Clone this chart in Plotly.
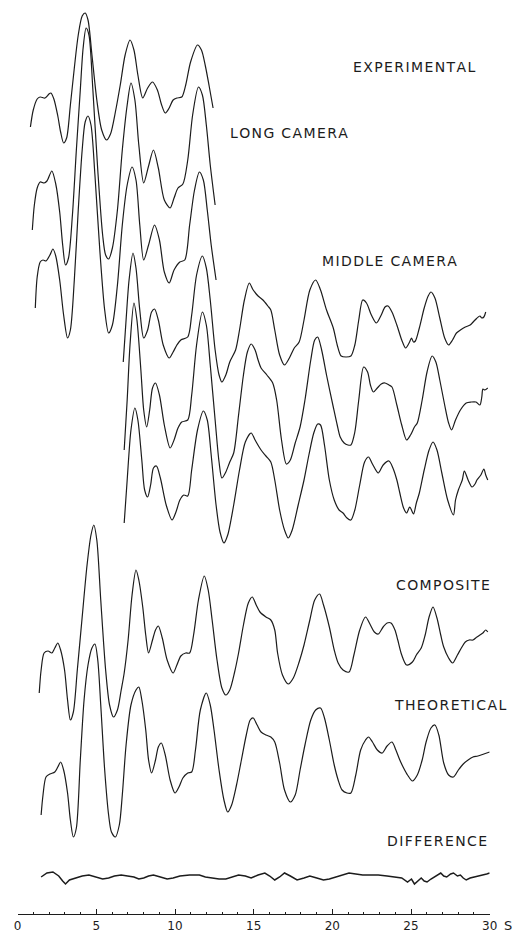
import plotly.graph_objects as go

# ---- molecular intensity curves, s in units of the lower scale, intensity in arbitrary units ----

# long camera plates
long1_s = [0.81, 0.99, 1.24, 1.43, 1.74, 1.99, 2.11, 2.30, 2.55, 2.73, 2.92, 3.11, 3.35, 3.60, 3.85, 4.10,
           4.29, 4.47, 4.72, 5.03, 5.34, 5.65, 5.90, 6.21, 6.52, 6.83, 7.14, 7.39, 7.64, 7.95, 8.26, 8.57,
           8.88, 9.13, 9.38, 9.63, 9.88, 10.12, 10.43, 10.68, 10.99, 11.43, 11.68, 11.93, 12.17, 12.42]
long1_i = [-27, -10, 1, 3, 2, 6, 7, 1, -16, -32, -43, -38, -5, 32, 65, 84,
           87, 80, 45, 0, -30, -40, -34, -12, 15, 45, 60, 50, 25, 2, 12, 18,
           10, -4, -13, -8, 0, 2, 3, 15, 38, 55, 50, 34, 14, -8]

long2_s = [0.93, 1.06, 1.24, 1.43, 1.68, 1.86, 2.17, 2.42, 2.67, 2.86, 3.04, 3.23, 3.48, 3.73, 3.98, 4.16,
           4.35, 4.53, 4.78, 5.09, 5.40, 5.59, 5.78, 6.02, 6.34, 6.65, 6.96, 7.20, 7.45, 7.70, 8.01, 8.32,
           8.63, 8.94, 9.32, 9.69, 9.94, 10.19, 10.50, 10.81, 11.12, 11.49, 11.74, 11.99, 12.24, 12.55]
long2_i = [-40, -15, 2, 8, 7, 9, 19, 6, -22, -55, -75, -68, -25, 40, 100, 142,
           162, 155, 100, 20, -45, -65, -69, -58, -20, 40, 85, 107, 90, 45, 7, 24,
           40, 22, -10, -18, -8, 2, 6, 30, 75, 103, 95, 65, 25, -15]

long3_s = [1.12, 1.24, 1.43, 1.61, 1.80, 2.05, 2.24, 2.42, 2.67, 2.92, 3.17, 3.35, 3.60, 3.85, 4.10, 4.29,
           4.47, 4.66, 4.91, 5.22, 5.53, 5.78, 6.02, 6.34, 6.65, 6.96, 7.27, 7.52, 7.76, 8.01, 8.32, 8.70,
           9.01, 9.32, 9.63, 9.94, 10.31, 10.62, 10.93, 11.24, 11.55, 11.80, 12.05, 12.30, 12.61]
long3_i = [-38, -7, 8, 10, 9, 15, 21, 14, -10, -45, -68, -60, -10, 60, 120, 148,
           154, 145, 95, 20, -40, -63, -55, -15, 45, 85, 103, 90, 45, 10, 25, 45,
           30, -2, -13, 0, 8, 10, 45, 80, 98, 90, 60, 25, -10]

# middle camera plates
mid1_s = [6.71, 6.89, 7.08, 7.33, 7.52, 7.76, 8.01, 8.26, 8.51, 8.70, 8.94, 9.25, 9.63, 9.88, 10.12, 10.37,
          10.81, 11.06, 11.37, 11.74, 11.99, 12.24, 12.55, 12.80, 12.98, 13.23, 13.48, 13.85, 14.10, 14.41,
          14.72, 14.97, 15.28, 15.59, 15.90, 16.09, 16.34, 16.65, 16.96, 17.27, 17.58, 17.89, 18.20, 18.57,
          18.94, 19.25, 19.63, 20.06, 20.31, 20.56, 20.87, 21.18, 21.43, 21.68, 21.93, 22.17, 22.48, 22.80,
          23.11, 23.35, 23.54, 23.79, 24.10, 24.41, 24.66, 24.91, 25.03, 25.16, 25.28, 25.53, 25.84, 26.09,
          26.27, 26.52, 26.83, 27.14, 27.39, 27.64, 27.89, 28.14, 28.45, 28.76, 29.07, 29.38, 29.50, 29.63, 29.75]
mid1_i = [-42, 0, 40, 67, 52, 10, -18, -10, 8, 11, 0, -25, -38, -32, -25, -20,
          -17, 5, 45, 64, 52, 20, -30, -55, -62, -55, -42, -30, -10, 20,
          37, 30, 24, 20, 14, 10, -10, -35, -45, -38, -28, -22, 0, 30,
          40, 30, 10, -8, -25, -36, -37, -36, -25, 0, 20, 17, 5, -3,
          5, 13, 14, 8, -5, -20, -28, -22, -18, -22, -21, -8, 12, 24,
          28, 22, 2, -18, -25, -20, -13, -10, -7, -5, 0, 4, 2, 3, 8]

mid2_s = [6.77, 6.96, 7.14, 7.39, 7.58, 7.83, 8.01, 8.20, 8.39, 8.57, 8.76, 9.01, 9.32, 9.69, 9.94, 10.19,
          10.43, 10.81, 11.06, 11.37, 11.74, 11.99, 12.24, 12.55, 12.80, 12.98, 13.23, 13.48, 13.73, 14.04,
          14.35, 14.60, 14.84, 15.09, 15.28, 15.47, 15.84, 16.21, 16.46, 16.77, 17.08, 17.33, 17.64, 17.95,
          18.26, 18.63, 18.88, 19.07, 19.32, 19.63, 20.06, 20.31, 20.50, 20.75, 20.99, 21.18, 21.43, 21.68,
          21.99, 22.24, 22.42, 22.61, 22.86, 23.11, 23.35, 23.60, 23.79, 24.10, 24.41, 24.72, 24.97, 25.22,
          25.40, 25.71, 26.02, 26.34, 26.58, 26.83, 27.14, 27.39, 27.58, 27.83, 28.14, 28.51, 28.82, 29.13,
          29.38, 29.50, 29.57, 29.69, 29.88]
mid2_i = [-50, 0, 55, 97, 80, 30, -10, -27, -10, 12, 17, 5, -25, -48, -40, -28,
          -22, -20, 5, 55, 88, 75, 35, -20, -62, -78, -72, -62, -53, -15,
          25, 48, 56, 50, 40, 32, 25, 17, 0, -40, -64, -60, -43, -27,
          0, 40, 60, 63, 50, 25, -7, -25, -37, -43, -45, -45, -32, 0,
          33, 28, 15, 8, 12, 16, 17, 15, 13, -5, -25, -40, -35, -27,
          -23, 0, 28, 44, 38, 20, -5, -23, -30, -20, -10, -3, -2, -2,
          -5, 3, 11, 10, 12]

mid3_s = [6.77, 6.96, 7.20, 7.45, 7.64, 7.89, 8.07, 8.26, 8.45, 8.63, 8.82, 9.07, 9.44, 9.81, 10.06, 10.31,
          10.56, 10.81, 11.06, 11.43, 11.80, 12.05, 12.30, 12.61, 12.86, 13.11, 13.35, 13.73, 14.10, 14.47,
          14.84, 15.09, 15.47, 15.78, 16.09, 16.34, 16.65, 16.96, 17.20, 17.45, 17.83, 18.20, 18.51, 18.82,
          19.07, 19.25, 19.50, 19.81, 20.12, 20.43, 20.68, 20.93, 21.18, 21.43, 21.74, 22.05, 22.30, 22.55,
          22.92, 23.23, 23.60, 23.85, 24.10, 24.29, 24.53, 24.72, 24.91, 24.97, 25.16, 25.34, 25.53, 25.84,
          26.15, 26.40, 26.65, 26.96, 27.33, 27.70, 27.83, 28.01, 28.26, 28.39, 28.63, 28.88, 29.07, 29.19,
          29.44, 29.63, 29.75, 29.88]
mid3_i = [-48, -5, 45, 67, 55, 15, -15, -22, -10, 7, 9, -3, -30, -45, -37, -25,
          -20, -21, 5, 45, 64, 55, 20, -30, -57, -68, -60, -30, 5, 33,
          42, 35, 25, 19, 13, -5, -35, -55, -63, -55, -30, -5, 20, 42,
          51, 50, 30, -5, -25, -35, -38, -43, -45, -35, -10, 13, 18, 11,
          2, 10, 14, 7, -5, -18, -33, -38, -32, -33, -39, -28, -18, 5,
          25, 33, 25, 2, -25, -40, -25, -15, -5, 4, -5, -12, -9, -5,
          0, 6, 0, -5]

# composite of all plates
comp_s = [1.37, 1.49, 1.68, 1.93, 2.17, 2.36, 2.55, 2.73, 2.98, 3.17, 3.35, 3.54, 3.79, 4.10, 4.41, 4.66,
          4.84, 5.03, 5.28, 5.59, 5.84, 6.09, 6.34, 6.58, 6.77, 7.02, 7.27, 7.52, 7.70, 7.95, 8.14, 8.32,
          8.57, 8.76, 8.94, 9.19, 9.50, 9.88, 10.12, 10.37, 10.68, 10.93, 11.18, 11.49, 11.86, 12.11, 12.36,
          12.67, 12.98, 13.23, 13.48, 13.79, 14.04, 14.35, 14.66, 14.91, 15.16, 15.40, 15.78, 16.09, 16.34,
          16.52, 16.83, 17.20, 17.52, 17.89, 18.20, 18.57, 18.88, 19.19, 19.44, 19.81, 20.12, 20.37, 20.68,
          21.06, 21.37, 21.74, 22.11, 22.42, 22.67, 22.92, 23.23, 23.48, 23.73, 23.98, 24.16, 24.41, 24.72,
          25.09, 25.34, 25.65, 25.90, 26.15, 26.40, 26.65, 26.89, 27.08, 27.39, 27.64, 27.95, 28.20, 28.45,
          28.70, 28.94, 29.19, 29.38, 29.57, 29.75, 29.88]
comp_i = [-43, -20, -3, -1, -3, 2, 7, 0, -20, -50, -70, -62, -20, 33, 85, 115,
          125, 110, 50, -20, -55, -67, -60, -40, -23, 10, 55, 80, 70, 43, 15, -3,
          10, 20, 24, 12, -10, -23, -15, -6, -3, -3, 15, 50, 74, 60, 30,
          -10, -38, -45, -40, -22, -3, 25, 47, 53, 45, 38, 33, 30, 20,
          -3, -25, -34, -28, -12, 5, 30, 50, 56, 45, 23, 0, -13, -20,
          -22, -5, 20, 33, 25, 18, 16, 23, 27, 27, 20, 10, -5, -15,
          -12, -5, 2, 15, 33, 43, 32, 15, 3, -8, -13, -5, 2, 8,
          10, 10, 13, 15, 17, 20, 18]

# theoretical curve
theo_s = [1.49, 1.61, 1.80, 2.05, 2.36, 2.55, 2.73, 2.92, 3.17, 3.35, 3.54, 3.73, 3.98, 4.22, 4.47, 4.72,
          4.91, 5.09, 5.28, 5.53, 5.78, 5.96, 6.21, 6.46, 6.65, 6.89, 7.20, 7.52, 7.70, 7.89, 8.14, 8.32,
          8.51, 8.76, 8.94, 9.13, 9.38, 9.69, 10.00, 10.25, 10.50, 10.81, 11.06, 11.30, 11.61, 11.99, 12.24,
          12.48, 12.80, 13.11, 13.35, 13.60, 13.91, 14.22, 14.53, 14.78, 14.97, 15.22, 15.47, 15.78, 16.09,
          16.34, 16.65, 16.96, 17.33, 17.64, 17.95, 18.26, 18.63, 18.94, 19.25, 19.50, 19.81, 20.12, 20.37,
          20.62, 20.93, 21.18, 21.49, 21.80, 22.11, 22.30, 22.55, 22.86, 23.17, 23.48, 23.79, 24.04, 24.29,
          24.53, 24.78, 25.09, 25.40, 25.71, 25.96, 26.27, 26.52, 26.77, 27.08, 27.39, 27.70, 28.01, 28.32,
          28.63, 28.94, 29.25, 29.63, 30.00]
theo_i = [-55, -35, -17, -14, -12, -7, -2, -10, -33, -60, -77, -68, 0, 60, 95, 112,
          116, 100, 55, -10, -55, -72, -77, -65, -35, 15, 55, 70, 73, 60, 30, 0,
          -13, 0, 13, 17, 5, -20, -33, -27, -18, -13, -12, 10, 50, 67, 55,
          30, -10, -40, -52, -45, -25, 0, 25, 40, 42, 35, 28, 25, 23,
          18, -3, -30, -42, -35, -10, 15, 40, 50, 52, 42, 20, -5, -20,
          -30, -33, -33, -15, 10, 20, 23, 18, 10, 7, 14, 18, 10, 0,
          -8, -15, -21, -15, 0, 18, 32, 35, 25, -3, -15, -17, -10, -4,
          0, 3, 4, 6, 8]

# composite minus theoretical
diff_s = [1.49, 1.86, 2.24, 2.61, 2.86, 3.04, 3.29, 3.66, 4.10, 4.53, 5.03, 5.40, 5.78, 6.15, 6.58, 7.02,
          7.39, 7.70, 8.01, 8.32, 8.63, 9.07, 9.50, 9.88, 10.31, 10.93, 11.55, 11.93, 12.36, 12.80, 13.23,
          13.60, 14.04, 14.47, 14.84, 15.28, 15.71, 16.02, 16.34, 16.65, 16.96, 17.33, 17.76, 18.20, 18.57,
          19.01, 19.44, 19.81, 20.25, 20.68, 21.06, 21.49, 21.93, 22.42, 22.92, 23.48, 23.98, 24.41, 24.78,
          25.03, 25.22, 25.47, 25.65, 25.84, 26.02, 26.27, 26.46, 26.71, 26.89, 27.08, 27.27, 27.52, 27.70,
          27.95, 28.14, 28.32, 28.51, 28.76, 29.07, 29.32, 29.57, 29.81, 30.00]
diff_i = [0, 4, 5, 1, -4, -7, -3, -1, 1, 2, 0, -2, -1, 1, 2, 1,
          0, -2, -1, 1, 2, 0, -2, -1, 1, 2, 2, 0, -1, -2, -2,
          0, 2, 1, -1, 2, 4, 1, -3, 0, 4, 1, -3, -1, 1,
          -1, -3, -2, 0, 2, 4, 3, 2, 2, 2, 1, 0, -1, -5,
          -2, -7, -3, -1, -4, -5, -2, 0, 2, 4, 1, 0, 3, 4,
          1, 2, -1, -3, -1, 0, 1, 2, 3, 4]

# tick labels of the s scale
tick_vals = [0, 5, 10, 15, 20, 25, 30]
tick_text = ["0", "5", "10", "15", "20", "25", "30"]

# ---- layout constants ----
W, H = 526, 935
PLOT_H = 914          # height of the plotting area (axis line sits at its bottom)
INK = "#1c1c1c"
FONT = "DejaVu Sans"

# vertical placement of each trace (plot units above the s axis)
curves = [
    (long1_s, long1_i, 814, 1.2, "spline"),
    (long2_s, long2_i, 724, 1.2, "spline"),
    (long3_s, long3_i, 644, 1.2, "spline"),
    (mid1_s, mid1_i, 594, 1.2, "spline"),
    (mid2_s, mid2_i, 514, 1.2, "spline"),
    (mid3_s, mid3_i, 439, 1.2, "spline"),
    (comp_s, comp_i, 264, 1.2, "spline"),
    (theo_s, theo_i, 154, 1.2, "spline"),
    (diff_s, diff_i, 37, 1.5, "linear"),
]

fig = go.Figure()
for s_vals, i_vals, level, lw, shape in curves:
    fig.add_trace(go.Scatter(
        x=s_vals,
        y=[level + v for v in i_vals],
        mode="lines",
        line=dict(color=INK, width=lw, shape=shape, smoothing=0.8 if shape == "spline" else None),
        hoverinfo="skip",
        showlegend=False,
    ))


def spaced(text):
    # open letter spacing used on the curve labels
    return "\u200a".join(text).replace("\u200a \u200a", "\u2002")


labels = [
    ("EXPERIMENTAL", 420, 67),
    ("LONG CAMERA", 292, 133),
    ("MIDDLE CAMERA", 395, 261),
    ("COMPOSITE", 449, 585),
    ("THEORETICAL", 456, 705),
    ("DIFFERENCE", 443, 841),
]
for text, px, py in labels:
    fig.add_annotation(
        x=px / W, y=(PLOT_H - py) / PLOT_H, xref="paper", yref="paper",
        text=spaced(text), showarrow=False, xanchor="center", yanchor="middle",
        font=dict(family=FONT, size=14, color=INK),
    )

# unit of the s scale
fig.add_annotation(
    x=516 / W, y=(PLOT_H - 925) / PLOT_H, xref="paper", yref="paper",
    text="S", showarrow=False, xanchor="center", yanchor="middle",
    font=dict(family=FONT, size=13, color=INK),
)

fig.update_layout(
    width=W, height=H,
    margin=dict(l=0, r=0, t=0, b=H - PLOT_H),
    paper_bgcolor="white", plot_bgcolor="white",
    showlegend=False,
    xaxis=dict(
        domain=[14 / W, 497 / W], range=[0, 30],
        showline=True, linecolor=INK, linewidth=1.2,
        showgrid=False, zeroline=False,
        ticks="inside", ticklen=5, tickwidth=1, tickcolor=INK,
        tickvals=tick_vals, ticktext=tick_text,
        tickfont=dict(family=FONT, size=12, color=INK),
        minor=dict(dtick=1, ticks="inside", ticklen=2, tickwidth=1, tickcolor=INK, showgrid=False),
        fixedrange=True,
    ),
    yaxis=dict(visible=False, range=[0, PLOT_H], fixedrange=True),
)

fig.write_html("out.html")
